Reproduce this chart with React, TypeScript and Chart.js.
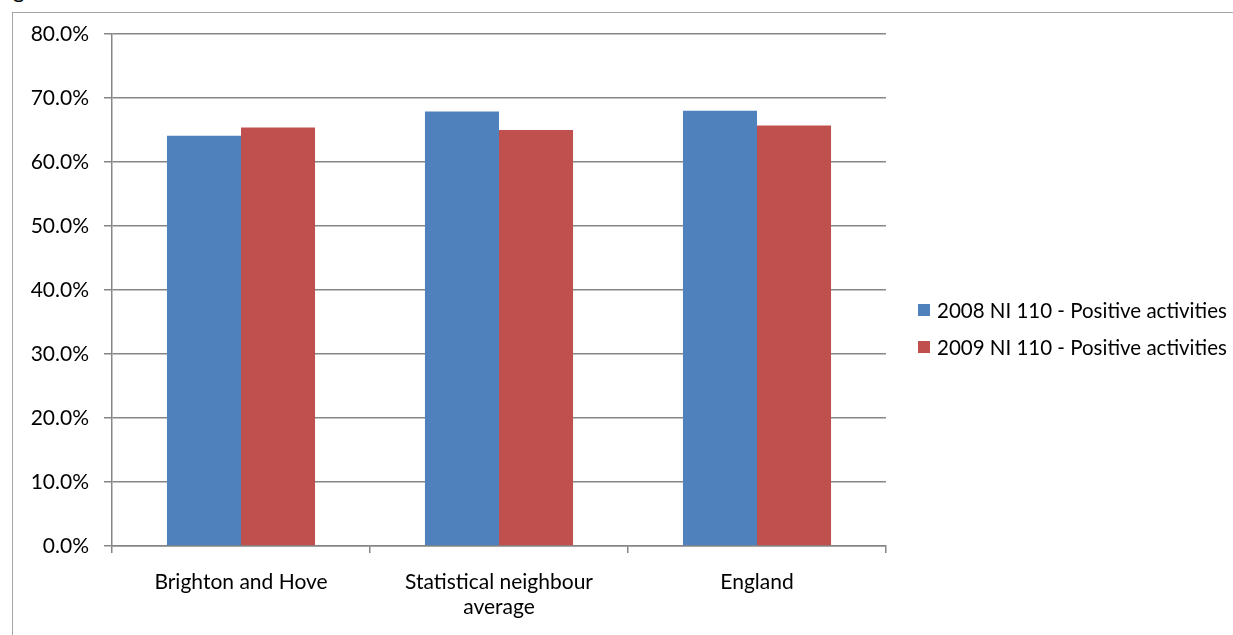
import React, { useEffect, useRef } from "react";
import { Chart, registerables } from "chart.js";

Chart.register(...registerables);

const categories: (string | string[])[] = [
  "Brighton and Hove",
  ["Statistical neighbour", "average"],
  "England",
];
const seriesNames = [
  "2008 NI 110 - Positive activities",
  "2009 NI 110 - Positive activities",
];
const values2008 = [64.1, 67.9, 68.0];
const values2009 = [65.4, 65.0, 65.7];
const seriesColors = ["#4F81BD", "#C0504D"];

const FONT = "Lato, 'Open Sans', sans-serif";

export default function App() {
  const canvasRef = useRef<HTMLCanvasElement | null>(null);

  useEffect(() => {
    document.body.style.margin = "0";
    document.body.style.overflow = "hidden";
    const ctx = canvasRef.current!;
    const chart = new Chart(ctx, {
      type: "bar",
      data: {
        labels: categories as any,
        datasets: [
          {
            label: seriesNames[0],
            data: values2008,
            backgroundColor: seriesColors[0],
            categoryPercentage: 0.574,
            barPercentage: 1,
          },
          {
            label: seriesNames[1],
            data: values2009,
            backgroundColor: seriesColors[1],
            categoryPercentage: 0.574,
            barPercentage: 1,
          },
        ],
      },
      options: {
        animation: false,
        responsive: false,
        maintainAspectRatio: false,
        layout: { padding: { top: 34, left: 0, right: 347, bottom: 0 } },
        plugins: { legend: { display: false }, tooltip: { enabled: false } },
        scales: {
          x: {
            afterFit: (s: any) => {
              s.height = 89;
            },
            grid: {
              offset: true,
              drawOnChartArea: false,
              color: "#868686",
              tickLength: 7,
              lineWidth: 1.5,
            },
            border: { color: "#868686", width: 1.5 },
            ticks: {
              color: "#000",
              padding: 17,
              maxRotation: 0,
              autoSkip: false,
              font: { family: FONT, size: 21, lineHeight: 1.18 },
            },
          },
          y: {
            min: 0,
            max: 80,
            afterFit: (s: any) => {
              s.width = 112;
            },
            grid: { color: "#868686", tickLength: 8, lineWidth: 1.5 },
            border: { color: "#868686", width: 1.5 },
            ticks: {
              stepSize: 10,
              color: "#000",
              padding: 15,
              font: { family: FONT, size: 21 },
              callback: (v: any) => Number(v).toFixed(1) + "%",
            },
          },
        },
      },
    });
    return () => chart.destroy();
  }, []);

  return (
    <div style={{ position: "relative", width: 1233, height: 635, overflow: "hidden", background: "#fff" }}>
      <div
        style={{
          position: "absolute",
          left: 0,
          top: -21,
          fontFamily: FONT,
          fontSize: 22,
          lineHeight: "22px",
          color: "#000",
          whiteSpace: "nowrap",
          paddingLeft: 13,
        }}
      >
        g
      </div>
      <div
        style={{
          position: "absolute",
          left: 12,
          top: 12,
          width: 1300,
          height: 700,
          border: "1.5px solid #A6A6A6",
        }}
      />
      <canvas
        ref={canvasRef}
        width={1233}
        height={635}
        style={{ position: "absolute", left: 0, top: 0, width: 1233, height: 635 }}
      />
      {seriesNames.map((name, i) => (
        <div
          key={name}
          style={{
            position: "absolute",
            left: 918,
            top: 298 + i * 37,
            height: 24,
            display: "flex",
            alignItems: "center",
            fontFamily: FONT,
            fontSize: 20.5,
            color: "#000",
            whiteSpace: "nowrap",
          }}
        >
          <span
            style={{
              display: "inline-block",
              width: 12,
              height: 12,
              background: seriesColors[i],
              marginRight: 7,
            }}
          />
          {name}
        </div>
      ))}
    </div>
  );
}
